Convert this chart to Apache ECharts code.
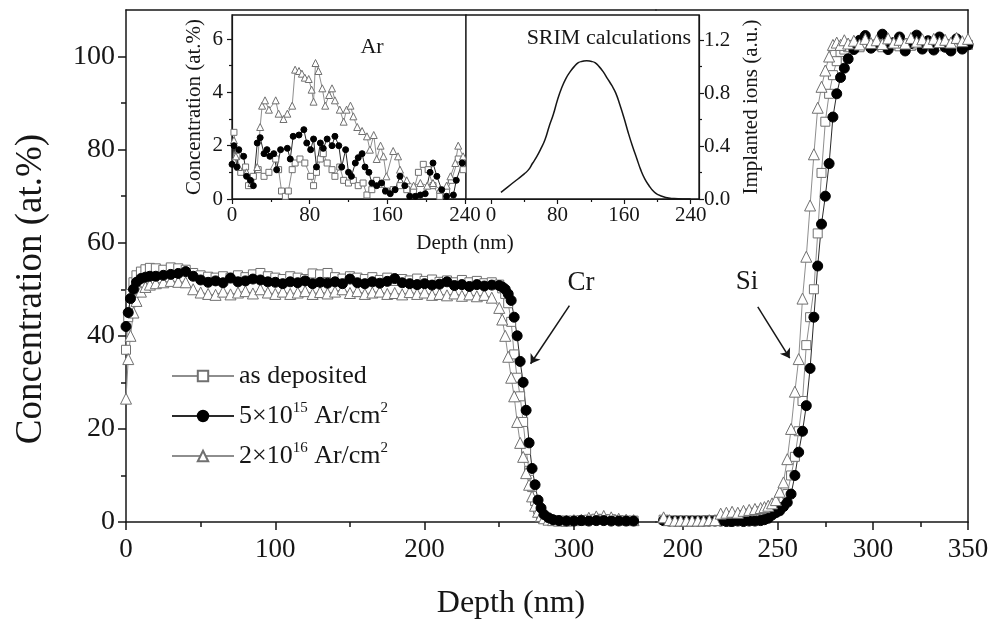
<!DOCTYPE html>
<html>
<head>
<meta charset="utf-8">
<title>Cr / Si depth profiles</title>
<script src="https://cdn.jsdelivr.net/npm/echarts@6.0.0/dist/echarts.min.js"></script>
<style>
html, body { margin: 0; padding: 0; background: #fff; }
#chart { width: 992px; height: 624px; }
</style>
</head>
<body>
<div id="chart"></div>
<script>
// ---- main plot, left part (Cr) ----
const crDepth = [0, 1.5, 3, 5, 7, 10, 13, 16,
    20, 25, 30, 35, 40, 45, 50, 55, 60, 65, 70, 75, 80, 85, 90, 95, 100, 105, 110, 115,
    120, 125, 130, 135, 140, 145, 150, 155, 160, 165, 170, 175, 180, 185, 190, 195, 200,
    205, 210, 215, 220, 225, 230, 235, 240, 245,
    250, 252, 254, 256, 258, 260, 262, 264, 266, 268, 270, 272, 274, 276, 278, 280,
    283, 286, 290, 295, 300, 305, 310, 315, 320, 325, 330, 335, 340];
const crAsDep = [37, 44, 49, 51.5, 53, 53.8, 54.3, 54.6,
    54.5, 54.2, 54.7, 54.5, 54.2, 53.5, 53.0, 52.7, 52.5, 52.8,
    52.5, 53.0, 52.6, 53.2, 53.5, 52.8, 52.5, 52.2, 52.8, 52.5,
    52.2, 53.4, 53.2, 53.5, 52.6, 52.3, 52.8, 52.5, 52.2, 52.6,
    52.0, 52.5, 51.8, 52.2, 51.9, 52.3, 51.8, 52.1, 51.6, 51.9,
    51.5, 52.0, 51.5, 51.8, 51.3, 51.5,
    51.0, 50.2, 49.0, 47.0, 43.0, 36.0, 31.0, 27.0, 21.5, 15.5, 11.0, 7.5, 4.5, 2.8, 1.6, 0.9,
    0.6, 0.4, 0.3, 0.3, 0.3, 0.4, 0.5, 0.7, 0.6, 0.6, 0.4, 0.3, 0.3];
const crLow = [42, 45, 48, 50, 51.5, 52.3, 52.6, 52.8,
    52.8, 53.0, 53.2, 53.4, 53.8, 52.8, 52.0, 51.5, 51.8, 51.4,
    52.4, 51.6, 51.8, 52.2, 52.0, 51.6, 51.5, 51.2, 51.6, 51.4,
    51.8, 51.2, 51.5, 51.3, 51.6, 51.2, 52.2, 51.4, 51.2, 51.6,
    51.3, 51.7, 52.3, 51.4, 51.2, 51.0, 51.2, 50.9, 51.1, 51.6,
    50.8, 51.0, 50.6, 51.0, 50.7, 50.9,
    50.8, 50.5, 50.0, 49.0, 47.6, 44.0, 40.0, 34.5, 30.0, 24.0, 17.0, 11.5, 8.0, 4.7, 3.0, 1.6,
    0.9, 0.5, 0.3, 0.2, 0.2, 0.3, 0.2, 0.3, 0.3, 0.2, 0.2, 0.2, 0.2];
const crHigh = [26.5, 35, 40, 45, 47.5, 49.5, 50.5, 51,
    51.3, 51.5, 51.8, 51.6, 51.5, 50.0, 49.3, 49.0, 48.8, 49.5,
    48.9, 49.3, 49.6, 49.1, 50.0, 49.3, 49.0, 49.5, 49.0, 49.3,
    49.6, 49.0, 49.4, 49.1, 49.5, 50.0, 49.2, 49.6, 49.0, 49.3,
    49.5, 49.0, 49.2, 48.9, 49.4, 49.0, 49.3, 48.8, 49.0, 48.7,
    49.1, 48.6, 48.9, 48.5, 48.8, 48.2,
    46.0, 43.5, 40.0, 35.5, 31.0, 27.0, 21.5, 17.0, 14.0, 10.5, 8.0, 5.5, 3.5, 2.2, 1.3, 0.8,
    0.5, 0.4, 0.3, 0.3, 0.4, 0.5, 0.9, 1.2, 1.3, 1.0, 0.7, 0.5, 0.4];

// ---- main plot, right part (Si) ----
const siDepth = [190, 193, 196, 199, 202, 205, 208, 211, 214, 217, 220, 223, 226, 229, 232, 235, 238, 241,
    243, 245, 247, 249, 251, 253, 255, 257, 259, 261, 263, 265, 267, 269, 271, 273, 275, 277, 279, 281, 283, 285, 287,
    290, 293, 296, 299, 302, 305, 308, 311, 314, 317, 320, 323, 326, 329, 332, 335, 338, 341, 344, 347, 350];
const siAsDep = [0.5, 0.3, 0.3, 0.3, 0.3, 0.3, 0.3, 0.3, 0.4, 0.4, 0.5, 0.6, 0.8, 1.2, 1.5, 1.8, 2.0, 2.3,
    2.5, 2.8, 3.0, 3.3, 3.8, 4.5, 6.0, 10.0, 14.0, 19.5, 26.0, 38.0, 44.0, 50.0, 62.0, 75.0, 86.0, 92.0, 96.0, 99.0, 101.0, 101.5, 102.0,
    102.5, 102.0, 102.8, 102.3, 102.6, 102.0, 102.8, 102.4, 102.2, 102.9, 102.3, 102.6, 102.1, 102.8, 102.4, 102.2, 102.7, 102.3, 102.6, 102.2, 102.5];
const siLow = [0.3, 0.2, 0.2, 0.2, 0.2, 0.2, 0.2, 0.2, 0.2, 0.2, 0.2, 0.1, 0.1, 0.2, 0.1, 0.2, 0.2, 0.3,
    0.5, 0.8, 1.5, 2.0, 2.4, 3.3, 4.2, 6.0, 10.0, 15.0, 19.5, 25.0, 33.0, 44.0, 55.0, 64.0, 70.0, 77.0, 87.0, 92.0, 95.5, 97.5, 99.5,
    101.5, 103.5, 104.5, 101.8, 102.5, 104.8, 101.5, 103.0, 104.2, 101.2, 102.8, 104.6, 101.6, 103.4, 101.4, 104.2, 102.0, 101.2, 103.8, 101.6, 102.5];
const siHigh = [1.0, 0.4, 0.3, 0.3, 0.3, 0.3, 0.3, 0.3, 0.4, 0.4, 1.8, 2.0, 2.2, 2.0, 2.4, 2.6, 2.8, 3.0,
    3.2, 3.5, 4.0, 4.7, 6.5, 8.5, 13.5, 20.0, 28.0, 35.0, 48.0, 57.0, 68.0, 79.0, 89.0, 93.5, 97.0, 100.0, 102.5, 103.0, 102.5, 103.5, 102.8,
    103.4, 102.6, 103.8, 102.9, 103.5, 102.7, 103.9, 103.0, 103.6, 102.8, 104.0, 103.2, 103.7, 102.9, 103.8, 103.1, 103.6, 103.0, 104.0, 103.3, 103.8];

// ---- inset: Ar profiles ----
const arAsDepDepth = [2, 5, 9, 14, 17, 22, 27, 33, 38, 45, 48, 51, 55, 58, 62, 65, 70, 75, 81, 84,
    87, 91, 94, 98, 103, 106, 111, 115, 120, 125, 130, 135, 139, 144, 149, 154, 159, 166, 173, 180,
    187, 192, 197, 202, 207, 214, 221, 226, 233, 238];
const arAsDep = [2.5, 1.6, 1.0, 1.2, 0.5, 0.85, 1.1, 0.85, 1.0, 1.5, 1.1, 0.3, 0.1, 0.3, 1.1, 1.35, 1.5, 1.35, 0.85, 0.5,
    1.0, 1.5, 1.7, 1.35, 1.1, 0.85, 1.2, 0.7, 0.6, 0.7, 0.5, 0.6, 0.15, 0.35, 0.7, 0.55, 0.3, 0.35, 0.5, 0.35,
    0.3, 1.0, 1.3, 1.1, 0.5, 0.1, 0.3, 0.7, 1.5, 1.1];
const arLowDepth = [0, 2, 5, 7, 12, 15, 19, 22, 26, 29, 33, 36, 39, 43, 46, 50, 57, 60, 63, 69,
    74, 77, 81, 84, 87, 91, 94, 98, 103, 106, 110, 113, 117, 120, 123, 127, 130, 134, 137, 141,
    144, 149, 154, 158, 163, 168, 173, 178, 183, 189, 194, 199, 204, 207, 211, 216, 221, 228, 231, 237];
const arLow = [1.3, 2.0, 1.2, 1.85, 1.6, 0.85, 0.7, 0.5, 2.1, 2.3, 1.7, 1.85, 1.6, 1.7, 1.1, 1.85, 1.9, 1.5, 2.35, 2.4,
    2.6, 2.1, 1.85, 2.25, 1.2, 2.1, 1.9, 2.25, 2.0, 2.35, 2.0, 1.2, 1.85, 1.0, 0.85, 1.35, 1.55, 1.7, 1.2, 1.0,
    0.6, 0.5, 0.6, 0.3, 0.2, 0.35, 0.85, 0.5, 0.1, 0.1, 0.15, 0.2, 1.0, 1.35, 0.85, 0.35, 0.1, 0.15, 0.7, 1.35];
const arHighDepth = [2, 4, 7, 15, 20, 26, 29, 31, 34, 38, 45, 48, 53, 57, 62, 65, 69, 72, 75, 79,
    82, 84, 86, 89, 93, 96, 100, 103, 106, 111, 115, 118, 122, 125, 129, 134, 139, 142, 146, 149,
    153, 156, 159, 166, 171, 173, 180, 187, 194, 201, 207, 214, 221, 225, 230, 233, 238];
const arHigh = [2.2, 1.6, 1.2, 1.0, 0.6, 1.2, 2.7, 3.5, 3.7, 3.35, 3.7, 3.2, 3.0, 3.2, 3.5, 4.85, 4.8, 4.7, 4.55, 4.5,
    4.1, 3.65, 5.1, 4.8, 4.15, 3.5, 3.9, 4.15, 3.7, 3.35, 2.9, 3.35, 3.5, 3.1, 2.7, 2.55, 2.35, 1.85, 2.4, 1.5,
    2.0, 1.6, 0.85, 1.8, 1.6, 1.1, 0.7, 0.5, 0.6, 0.5, 0.6, 0.35, 0.5, 0.85, 1.35, 2.0, 1.6];

// ---- inset: SRIM ----
const srimDepth = [12, 20, 30, 40, 45, 50, 55, 60, 65, 70, 75, 80, 85, 90, 95, 100, 105, 110, 115, 120,
    125, 130, 135, 140, 145, 150, 155, 160, 165, 170, 175, 180, 185, 190, 195, 200, 210, 220, 230, 240];
const srimIons = [0.05, 0.09, 0.14, 0.19, 0.22, 0.27, 0.32, 0.38, 0.45, 0.55, 0.64, 0.75, 0.84, 0.91, 0.96, 1.0, 1.03, 1.04, 1.045, 1.04,
    1.03, 1.0, 0.96, 0.91, 0.86, 0.80, 0.71, 0.61, 0.50, 0.40, 0.31, 0.22, 0.15, 0.10, 0.06, 0.035, 0.012, 0.003, 0, 0];

// tick positions
const mainLeftTicks = [0, 100, 200, 300];
const mainLeftMinor = [50, 150, 250];
const mainRightTicks = [200, 250, 300, 350];
const mainRightMinor = [225, 275, 325];
const mainYTicks = [0, 20, 40, 60, 80, 100];
const mainYMinor = [10, 30, 50, 70, 90];
const insetXTicks = [0, 80, 160, 240];
const insetXMinor = [40, 120, 200];
const arTicks = [0, 2, 4, 6];
const arMinor = [1, 3, 5];
const ionTicks = [0, 0.4, 0.8, 1.2];
const ionMinor = [0.2, 0.6, 1.0];

const NAME_AS = 'as deposited';
const NAME_LOW = '5×10^15 Ar/cm^2';
const NAME_HIGH = '2×10^16 Ar/cm^2';
const legendText = {};
legendText[NAME_AS] = 'as deposited';
legendText[NAME_LOW] = '5×10{sup|15} Ar/cm{sup|2}';
legendText[NAME_HIGH] = '2×10{sup|16} Ar/cm{sup|2}';

const FONT = 'Liberation Serif';
const ink = '#161616';

function pairs(xs, ys) {
    return xs.map((x, i) => [x, ys[i]]);
}

function axis(o) {
    const a = {
        type: 'value',
        gridIndex: o.grid,
        min: o.min,
        max: o.max,
        position: o.pos,
        splitLine: { show: false },
        axisLine: { show: o.line !== false, onZero: false, lineStyle: { color: ink, width: o.lw || 1.5 } },
        axisTick: o.ticks
            ? { show: true, customValues: o.ticks, length: o.tickLen || 8, lineStyle: { color: ink, width: o.lw || 1.5 } }
            : { show: false },
        axisLabel: o.labels
            ? { show: true, customValues: o.labels, fontFamily: FONT, fontSize: o.fs, color: ink, margin: o.margin }
            : { show: false },
    };
    if (o.fmt) a.axisLabel.formatter = o.fmt;
    if (o.name) {
        a.name = o.name;
        a.nameLocation = 'middle';
        a.nameGap = o.nameGap;
        a.nameRotate = 90;
        a.nameMoveOverlap = false;
        a.nameTextStyle = { fontFamily: FONT, fontSize: o.nameFs, color: ink };
    }
    return a;
}

const looks = {
    asDep: { symbol: 'rect', fill: '#fff', stroke: '#707070', line: '#8e8e8e' },
    low: { symbol: 'circle', fill: '#000', stroke: '#000', line: '#2a2a2a' },
    high: { symbol: 'triangle', fill: '#fff', stroke: '#707070', line: '#8e8e8e' },
};

function lineSeries(name, data, xi, yi, look, size) {
    return {
        name: name,
        type: 'line',
        xAxisIndex: xi,
        yAxisIndex: yi,
        data: data,
        symbol: look.symbol,
        symbolSize: size,
        itemStyle: { color: look.fill, borderColor: look.stroke, borderWidth: 1 },
        lineStyle: { color: look.line, width: 1 },
        emphasis: { disabled: true },
        silent: true,
    };
}

function arrow(from, to) {
    return {
        silent: true,
        symbol: ['none', 'arrow'],
        symbolSize: 9,
        label: { show: false },
        lineStyle: { color: ink, width: 1.5, type: 'solid' },
        data: [[{ coord: from }, { coord: to }]],
    };
}

function label(text, x, y, size, align, rotation) {
    return {
        type: 'text', x: x, y: y, z: 10, rotation: rotation || 0,
        style: { text: text, font: size + 'px "Liberation Serif"', fill: ink, align: align || 'center', verticalAlign: 'middle' },
    };
}

const chart = echarts.init(document.getElementById('chart'));

const crLowSeries = lineSeries(NAME_LOW, pairs(crDepth, crLow), 0, 0, looks.low, 10);
crLowSeries.markLine = arrow([297, 46.5], [271, 34]);
const siLowSeries = lineSeries(NAME_LOW, pairs(siDepth, siLow), 3, 2, looks.low, 10);
siLowSeries.markLine = arrow([239.5, 46.2], [256.3, 35.2]);

chart.setOption({
    animation: false,
    backgroundColor: '#fff',
    grid: [
        { left: 126, top: 10, width: 530, height: 512, outerBoundsMode: 'none' },
        { left: 656, top: 10, width: 312, height: 512, outerBoundsMode: 'none' },
        { left: 232, top: 15, width: 234, height: 184, outerBoundsMode: 'none',
          show: true, backgroundColor: '#fff', borderColor: ink, borderWidth: 1.3 },
        { left: 466, top: 15, width: 233, height: 184, outerBoundsMode: 'none',
          show: true, backgroundColor: '#fff', borderColor: ink, borderWidth: 1.3 },
    ],
    xAxis: [
        axis({ grid: 0, min: 0, max: 355, pos: 'bottom', ticks: mainLeftTicks, labels: mainLeftTicks, fs: 27, margin: 14 }),
        axis({ grid: 0, min: 0, max: 355, pos: 'bottom', line: false, ticks: mainLeftMinor, tickLen: 5 }),
        axis({ grid: 0, min: 0, max: 355, pos: 'top' }),
        axis({ grid: 1, min: 186, max: 350, pos: 'bottom', ticks: mainRightTicks, labels: mainRightTicks, fs: 27, margin: 14 }),
        axis({ grid: 1, min: 186, max: 350, pos: 'bottom', line: false, ticks: mainRightMinor, tickLen: 5 }),
        axis({ grid: 1, min: 186, max: 350, pos: 'top' }),
        axis({ grid: 2, min: 0, max: 241, pos: 'bottom', lw: 1.2, ticks: insetXTicks, tickLen: 5, labels: insetXTicks, fs: 21, margin: 6 }),
        axis({ grid: 2, min: 0, max: 241, pos: 'bottom', lw: 1.2, line: false, ticks: insetXMinor, tickLen: 3 }),
        axis({ grid: 3, min: -30, max: 250, pos: 'bottom', lw: 1.2, ticks: insetXTicks, tickLen: 5, labels: insetXTicks, fs: 21, margin: 6 }),
        axis({ grid: 3, min: -30, max: 250, pos: 'bottom', lw: 1.2, line: false, ticks: insetXMinor, tickLen: 3 }),
    ],
    yAxis: [
        axis({ grid: 0, min: 0, max: 110, pos: 'left', ticks: mainYTicks, labels: mainYTicks, fs: 28, margin: 11 }),
        axis({ grid: 0, min: 0, max: 110, pos: 'left', line: false, ticks: mainYMinor, tickLen: 5 }),
        axis({ grid: 1, min: 0, max: 110, pos: 'right' }),
        axis({ grid: 2, min: 0, max: 6.9, pos: 'left', lw: 1.2, ticks: arTicks, tickLen: 5, labels: arTicks, fs: 21, margin: 9,
               name: 'Concentration (at.%)', nameGap: 27, nameFs: 21 }),
        axis({ grid: 2, min: 0, max: 6.9, pos: 'left', lw: 1.2, line: false, ticks: arMinor, tickLen: 3 }),
        axis({ grid: 3, min: 0, max: 1.39, pos: 'right', lw: 1.2, ticks: ionTicks, tickLen: 5, labels: ionTicks, fs: 21, margin: 5,
               fmt: (v) => v.toFixed(1), name: 'Implanted ions (a.u.)', nameGap: 42, nameFs: 21 }),
        axis({ grid: 3, min: 0, max: 1.39, pos: 'right', lw: 1.2, line: false, ticks: ionMinor, tickLen: 3 }),
    ],
    legend: {
        data: [NAME_AS, NAME_LOW, NAME_HIGH],
        orient: 'vertical',
        left: 166,
        top: 356,
        itemWidth: 62,
        itemHeight: 13,
        itemGap: 10,
        selectedMode: false,
        formatter: (name) => legendText[name],
        textStyle: {
            fontFamily: FONT,
            fontSize: 26,
            lineHeight: 30,
            color: ink,
            rich: {
                sup: { fontFamily: FONT, fontSize: 15, lineHeight: 13, verticalAlign: 'top', color: ink },
            },
        },
    },
    graphic: [
        label('Concentration (at.%)', 31, 289, 37, 'center', Math.PI / 2),
        label('Depth (nm)', 511, 604, 32),
        label('Cr', 581, 283, 27),
        label('Si', 747, 282, 27),
        label('Ar', 372, 47, 22),
        label('SRIM calculations', 691, 38, 22, 'right'),
        label('Depth (nm)', 465, 243, 21),
    ],
    series: [
        lineSeries(NAME_AS, pairs(crDepth, crAsDep), 0, 0, looks.asDep, 9),
        lineSeries(NAME_HIGH, pairs(crDepth, crHigh), 0, 0, looks.high, 11),
        crLowSeries,
        lineSeries(NAME_AS, pairs(siDepth, siAsDep), 3, 2, looks.asDep, 9),
        siLowSeries,
        lineSeries(NAME_HIGH, pairs(siDepth, siHigh), 3, 2, looks.high, 11),
        lineSeries(NAME_AS, pairs(arAsDepDepth, arAsDep), 6, 3, looks.asDep, 6),
        lineSeries(NAME_HIGH, pairs(arHighDepth, arHigh), 6, 3, looks.high, 7),
        lineSeries(NAME_LOW, pairs(arLowDepth, arLow), 6, 3, looks.low, 6),
        {
            name: 'SRIM',
            type: 'line',
            xAxisIndex: 8,
            yAxisIndex: 5,
            data: pairs(srimDepth, srimIons),
            smooth: true,
            showSymbol: false,
            lineStyle: { color: ink, width: 1.5 },
            silent: true,
        },
    ],
});
</script>
</body>
</html>
